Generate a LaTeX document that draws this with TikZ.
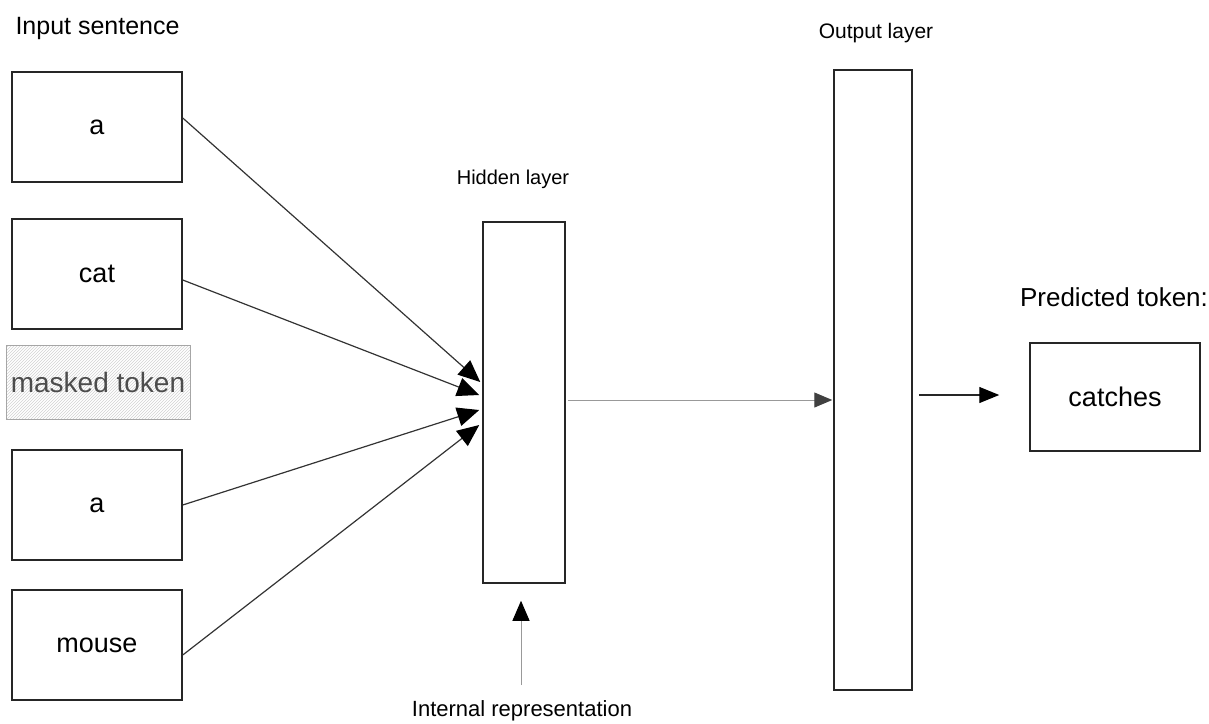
\documentclass[tikz,border=0pt]{standalone}
\usepackage{fontspec}
\setmainfont{Liberation Sans}
\usetikzlibrary{arrows.meta,patterns}
\tikzset{
  box/.style={draw=black!85, line width=1.5pt, minimum width=170pt, minimum height=110pt, font=\fontsize{27}{30}\selectfont},
  layer/.style={draw=black!85, line width=1.5pt},
  lbl/.style={font=\fontsize{25}{28}\selectfont},
  feed/.style={draw=black!80, line width=1.2pt, -{Triangle[length=22pt,width=19pt,color=black]}},
}
\begin{document}
\begin{tikzpicture}[x=1pt,y=-1pt]
      \useasboundingbox (0,0) rectangle (1209,723);
      \node[lbl,anchor=west] (insent) at (12,28) {Input sentence};
      \node[box] (a1) at (97,127) {a};
      \node[box] (cat) at (97,274) {cat};
      \node[draw=gray!70, line width=1pt, fill=gray!12, pattern=north east lines, pattern color=gray!35,
            minimum width=184pt, minimum height=74pt] (masked) at (98,382) {};
      \node[text=black!70, font=\fontsize{28}{30}\selectfont] at (masked) {masked token};
      \node[box] (a2) at (97,505) {a};
      \node[box] (mouse) at (97,645) {mouse};
      \node[lbl, font=\fontsize{20}{24}\selectfont] (hidlbl) at (513,179) {Hidden layer};
      \node[layer, minimum width=82pt, minimum height=361pt] (hidden) at (524,402.5) {};
      \node[lbl, font=\fontsize{21}{24}\selectfont] (outlbl) at (876,33) {Output layer};
      \node[layer, minimum width=78pt, minimum height=620pt] (output) at (873,380) {};
      \node[lbl, font=\fontsize{26}{28}\selectfont] (predlbl) at (1114,297) {Predicted token:};
      \node[box, minimum height=108pt] (catches) at (1115,397) {catches};
      \node[lbl, font=\fontsize{22}{26}\selectfont] (intrep) at (522,711) {Internal representation};
      \draw[feed] ([yshift=9pt]a1.east) -- ([xshift=-2pt,yshift=20.5pt]hidden.west);
      \draw[feed] ([yshift=-6pt]cat.east) -- ([xshift=-3pt,yshift=7.5pt]hidden.west);
      \draw[feed] (a2.east) -- ([xshift=-3pt,yshift=-7.5pt]hidden.west);
      \draw[feed] ([yshift=-10pt]mouse.east) -- ([xshift=-3pt,yshift=-22.5pt]hidden.west);
      \draw[draw=gray!80, line width=1pt, -{Triangle[length=18pt,width=15pt,color=black!75]}] ([xshift=2pt,yshift=2.5pt]hidden.east) -- ([xshift=-1pt,yshift=-20pt]output.west);
      \draw[draw=black!85, line width=1.2pt, -{Triangle[length=20pt,width=16pt,color=black]}] ([xshift=6pt,yshift=-15pt]output.east) -- ([xshift=-30pt,yshift=2pt]catches.west);
      \coordinate (reptail) at (521,685);
      \draw[draw=gray!80, line width=1pt, -{Triangle[length=20pt,width=17pt,color=black]}] (reptail) -- ([xshift=-3pt,yshift=-17pt]hidden.south);
    \end{tikzpicture}
\end{document}
